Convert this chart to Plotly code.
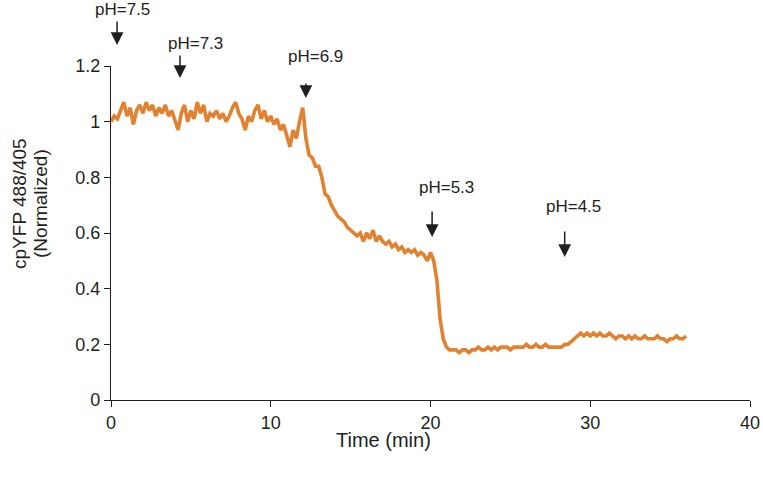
import plotly.graph_objects as go

# Normalized cpYFP 488/405 ratio, sampled every 0.2 min from 0 to 36 min
ratio = [
    1.00, 1.02, 1.01, 1.04, 1.07, 1.02, 1.05, 0.99, 1.04, 1.06,
    1.03, 1.07, 1.04, 1.06, 1.02, 1.05, 1.03, 1.06, 1.02, 1.04,
    1.00, 0.97, 1.03, 1.06, 1.00, 1.04, 1.01, 1.07, 1.03, 1.06,
    1.00, 1.03, 1.02, 1.04, 1.01, 1.03, 1.00, 1.02, 1.05, 1.07,
    1.03, 1.01, 0.97, 1.02, 1.00, 1.04, 1.06, 1.01, 1.04, 1.00,
    1.02, 0.99, 1.01, 0.97, 0.99, 0.95, 0.91, 0.97, 0.94, 1.00,
    1.05, 0.94, 0.88, 0.87, 0.84, 0.84, 0.80, 0.74, 0.73, 0.70,
    0.68, 0.66, 0.65, 0.64, 0.62, 0.61, 0.60, 0.59, 0.60, 0.57,
    0.60, 0.58, 0.61, 0.57, 0.59, 0.57, 0.56, 0.57, 0.55, 0.56,
    0.54, 0.55, 0.53, 0.54, 0.53, 0.54, 0.52, 0.53, 0.52, 0.50,
    0.53, 0.50, 0.43, 0.29, 0.22, 0.19, 0.18, 0.18, 0.18, 0.17,
    0.18, 0.18, 0.17, 0.18, 0.18, 0.19, 0.18, 0.18, 0.19, 0.18,
    0.19, 0.18, 0.19, 0.19, 0.19, 0.18, 0.19, 0.19, 0.19, 0.19,
    0.20, 0.19, 0.19, 0.20, 0.19, 0.19, 0.20, 0.19, 0.19, 0.19,
    0.19, 0.19, 0.20, 0.20, 0.21, 0.22, 0.23, 0.24, 0.23, 0.24,
    0.23, 0.24, 0.23, 0.24, 0.23, 0.23, 0.24, 0.23, 0.22, 0.23,
    0.23, 0.22, 0.23, 0.22, 0.23, 0.22, 0.22, 0.23, 0.22, 0.22,
    0.22, 0.23, 0.22, 0.22, 0.21, 0.22, 0.22, 0.23, 0.22, 0.22,
    0.23,
]
time_min = [round(i * 0.2, 1) for i in range(len(ratio))]

# pH change markers
ph_labels = ["pH=7.5", "pH=7.3", "pH=6.9", "pH=5.3", "pH=4.5"]
ph_arrow_x = [0.38, 4.32, 12.2, 20.1, 28.4]          # time (min)
ph_tip_y = [1.063, 0.964, 0.904, 0.488, 0.428]        # fraction of plot height
ph_arrow_len = [25, 24, 16, 27, 27]                   # pixels
ph_text_x = [0.69, 5.26, 12.77, 20.97, 28.98]         # time (min)
ph_text_y = [1.168, 1.066, 1.027, 0.635, 0.578]       # fraction of plot height

x_ticks = [0, 10, 20, 30, 40]
y_ticks = [0, 0.2, 0.4, 0.6, 0.8, 1.0, 1.2]

x_title = "Time (min)"
y_title_lines = ["cpYFP 488/405", "(Normalized)"]

FONT = "Liberation Sans, Arial, sans-serif"
INK = "#231f20"
ORANGE = "#e2812f"

fig = go.Figure()
fig.add_trace(go.Scatter(
    x=time_min, y=ratio, mode="lines",
    line=dict(color=ORANGE, width=3.6),
    showlegend=False,
))

annotations = []
for lab, ax_, tip, ln, tx, ty in zip(ph_labels, ph_arrow_x, ph_tip_y, ph_arrow_len, ph_text_x, ph_text_y):
    annotations.append(dict(
        x=ax_, y=tip, xref="x", yref="paper", ax=0, ay=-ln,
        text="", showarrow=True, arrowhead=2, arrowsize=1.7, arrowwidth=1.5, arrowcolor=INK,
    ))
    annotations.append(dict(
        x=tx, y=ty, xref="x", yref="paper", text=lab, showarrow=False,
        font=dict(family=FONT, size=17, color=INK), xanchor="center", yanchor="middle",
    ))

# axis titles (placed as in the reference)
annotations.append(dict(
    x=0.4257, y=-0.1198, xref="paper", yref="paper", text=x_title, showarrow=False,
    font=dict(family=FONT, size=20, color=INK), xanchor="center", yanchor="middle",
))
for txt, xp in zip(y_title_lines, [-0.1424, -0.1095]):
    annotations.append(dict(
        x=xp, y=0.587, xref="paper", yref="paper", text=txt,
        showarrow=False, textangle=-90,
        font=dict(family=FONT, size=19, color=INK), xanchor="center", yanchor="middle",
    ))

fig.update_layout(
    width=763, height=479,
    margin=dict(l=111, r=13, t=66, b=79, autoexpand=False),
    paper_bgcolor="white", plot_bgcolor="white",
    font=dict(family=FONT, color=INK, size=17),
    annotations=annotations,
    xaxis=dict(
        range=[0, 40], tickvals=x_ticks, showgrid=False, zeroline=False, automargin=False,
        showline=True, linecolor=INK, linewidth=1.3,
        ticks="outside", ticklen=6, tickcolor=INK, tickwidth=1.3,
        tickfont=dict(family=FONT, size=18, color=INK),
    ),
    yaxis=dict(
        range=[0, 1.2], tickvals=y_ticks, showgrid=False, zeroline=False, automargin=False,
        showline=True, linecolor=INK, linewidth=1.3,
        ticks="outside", ticklen=6, tickcolor=INK, tickwidth=1.3,
        tickfont=dict(family=FONT, size=18, color=INK),
    ),
)

# remove the browser's default 8px body margin so the figure fills the window
fig.write_html(
    "out.html",
    config={"displayModeBar": False},
    post_script="document.body.style.margin='0px';",
)
